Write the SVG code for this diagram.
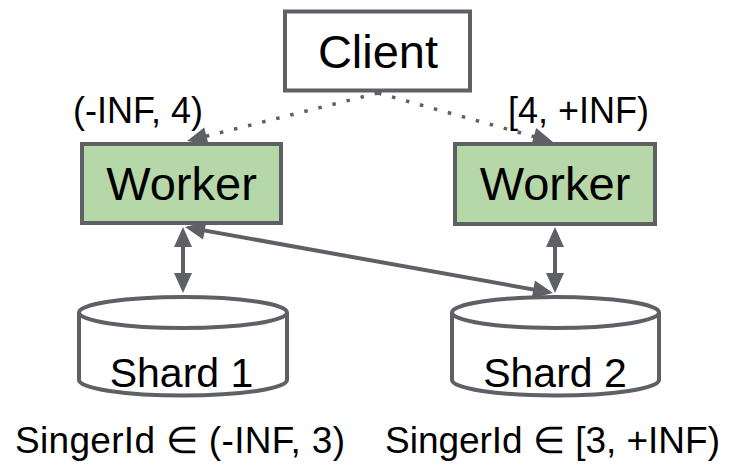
<svg xmlns="http://www.w3.org/2000/svg" width="732" height="466" viewBox="0 0 732 466">
<style>
text{font-family:"Liberation Sans",Arial,sans-serif;fill:#000}
.box{fill:#fff;stroke:#5f6066;stroke-width:4}
.worker{fill:#b6d7a8;stroke:#5f6066;stroke-width:4}
.cyl{fill:#fff;stroke:#5f6066;stroke-width:4}
.conn{fill:none;stroke:#5f6066;stroke-width:4}
.dot{fill:none;stroke:#5f6066;stroke-width:3.5;stroke-dasharray:3.5 11}
</style>
<defs>
<marker id="ah" markerUnits="userSpaceOnUse" markerWidth="20" markerHeight="18" refX="15" refY="9" orient="auto-start-reverse" overflow="visible">
<path d="M0,0 L20,9 L0,18 z" fill="#5f6066"/>
</marker>
</defs>
<g id="connectors">
<path class="dot" d="M378,93 L191.9,139.8" marker-end="url(#ah)"/>
<path class="dot" d="M378,93 L548.2,140.6" marker-end="url(#ah)"/>
<path class="conn" d="M183,232 L183,288" marker-start="url(#ah)" marker-end="url(#ah)"/>
<path class="conn" d="M555,232 L555,288" marker-start="url(#ah)" marker-end="url(#ah)"/>
<path class="conn" d="M189.9,227.9 L548.1,292.1" marker-start="url(#ah)" marker-end="url(#ah)"/>
</g>
<g id="client">
<rect class="box" x="285" y="11.5" width="185" height="79"/>
<text x="378" y="68" font-size="47" text-anchor="middle">Client</text>
</g>
<g id="worker1">
<rect class="worker" x="82" y="144" width="199" height="79"/>
<text x="181.5" y="200" font-size="47" text-anchor="middle">Worker</text>
</g>
<g id="worker2">
<rect class="worker" x="455" y="144" width="200" height="80"/>
<text x="555" y="200" font-size="47" text-anchor="middle">Worker</text>
</g>
<g id="label1"><text x="73" y="123" font-size="36">(-INF, 4)</text></g>
<g id="label2"><text x="508" y="123" font-size="36">[4, +INF)</text></g>
<g id="shard1">
<path class="cyl" d="M79,312.5 L79,380 A104,15.5 0 0 0 287,380 L287,312.5"/>
<ellipse class="cyl" cx="183" cy="312.5" rx="104" ry="15.5"/>
<text x="181.5" y="387" font-size="41" text-anchor="middle">Shard 1</text>
</g>
<g id="shard2">
<path class="cyl" d="M452,312.5 L452,380 A103.5,15.5 0 0 0 659,380 L659,312.5"/>
<ellipse class="cyl" cx="555.5" cy="312.5" rx="103.5" ry="15.5"/>
<text x="555" y="387" font-size="41" text-anchor="middle">Shard 2</text>
</g>
<g id="range1"><text x="15" y="453" font-size="37" textLength="330" lengthAdjust="spacing">SingerId ∈ (-INF, 3)</text></g>
<g id="range2"><text x="385" y="453" font-size="37" textLength="335" lengthAdjust="spacing">SingerId ∈ [3, +INF)</text></g>
</svg>
